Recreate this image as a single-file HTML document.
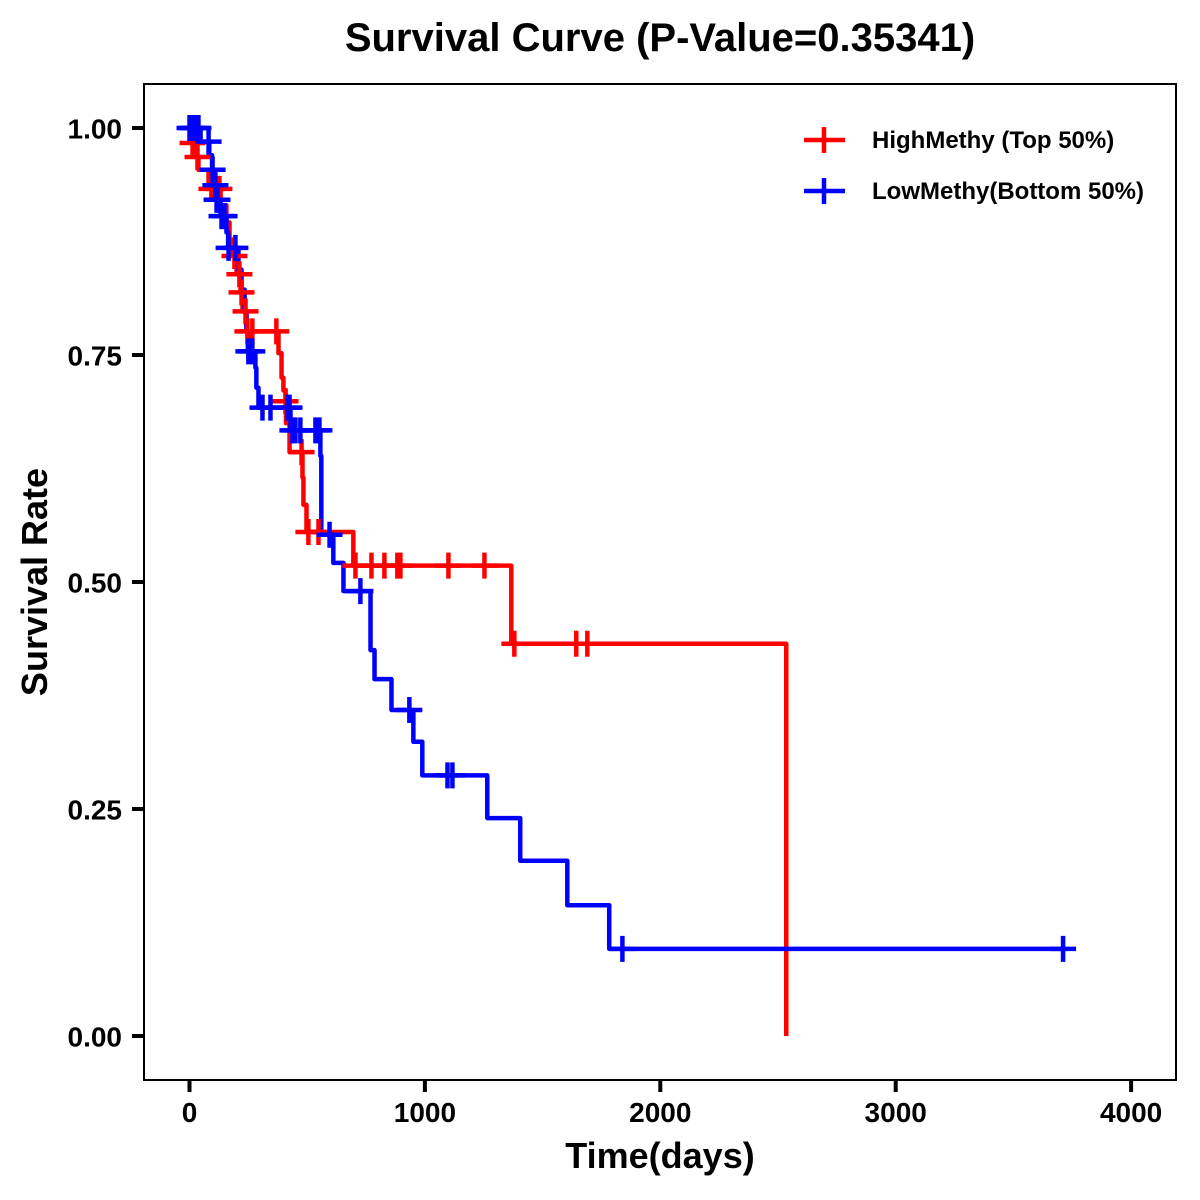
<!DOCTYPE html>
<html lang="en">
<head>
<meta charset="utf-8">
<title>Survival Curve</title>
<style>
html,body{margin:0;padding:0;background:#fff;}
svg{display:block;}
text{font-family:"Liberation Sans",Arial,sans-serif;font-weight:bold;fill:#000;}
</style>
</head>
<body>
<svg id="chart" xmlns="http://www.w3.org/2000/svg" width="1200" height="1200" viewBox="0 0 1200 1200">
  <rect x="0" y="0" width="1200" height="1200" fill="#fff"/>
  <text x="660" y="51" font-size="40" text-anchor="middle">Survival Curve (P-Value=0.35341)</text>
  <rect x="144" y="84" width="1032" height="996" fill="none" stroke="#000" stroke-width="2"/>
  <g id="x-axis"></g>
  <g id="y-axis"></g>
  <g id="series"></g>
  <text x="660" y="1168" font-size="36" text-anchor="middle">Time(days)</text>
  <text transform="translate(47,582) rotate(-90)" font-size="36" text-anchor="middle">Survival Rate</text>
  <g>
    <g>
      <line x1="804" x2="845" y1="140" y2="140" stroke="#f00" stroke-width="4.5"/>
      <line x1="824" x2="824" y1="127" y2="153" stroke="#f00" stroke-width="4.5"/>
      <text x="872" y="148" font-size="24">HighMethy (Top 50%)</text>
    </g>
    <g>
      <line x1="804" x2="845" y1="191" y2="191" stroke="#00f" stroke-width="4.5"/>
      <line x1="824" x2="824" y1="178" y2="204" stroke="#00f" stroke-width="4.5"/>
      <text x="872" y="199" font-size="24">LowMethy(Bottom 50%)</text>
    </g>
  </g>
</svg>
<script>
const xTicks = [0, 1000, 2000, 3000, 4000];
const yTicks = [0, 0.25, 0.5, 0.75, 1];

const highTimes = [0, 8, 25, 38, 81, 89, 132, 157, 170, 183, 200, 217, 225, 242, 378, 391, 399, 408, 410, 425, 480, 484, 497, 696, 1367, 2535];
const highSurvival = [1, 0.9835, 0.968, 0.954, 0.939, 0.933, 0.915, 0.896, 0.877, 0.859, 0.839, 0.819, 0.798, 0.776, 0.752, 0.725, 0.711, 0.699, 0.675, 0.643, 0.615, 0.585, 0.555, 0.518, 0.432, 0];
const highCensored = [13, 34, 93, 127, 191, 212, 221, 238, 246, 267, 369, 408, 476, 505, 548, 705, 773, 828, 883, 896, 1100, 1253, 1380, 1643, 1690];

const lowTimes = [0, 47, 84, 96, 106, 113, 132, 157, 164, 208, 221, 234, 242, 248, 280, 284, 293, 429, 556, 560, 611, 654, 769, 786, 858, 951, 989, 1265, 1405, 1605, 1783];
const lowSurvival = [1, 0.985, 0.97, 0.954, 0.937, 0.921, 0.903, 0.885, 0.868, 0.844, 0.822, 0.797, 0.776, 0.754, 0.736, 0.714, 0.692, 0.667, 0.639, 0.552, 0.521, 0.49, 0.425, 0.393, 0.359, 0.324, 0.287, 0.24, 0.193, 0.144, 0.096];
const lowCensored = [0, 8, 17, 30, 38, 81, 98, 110, 115, 119, 136, 149, 166, 195, 250, 267, 310, 344, 416, 425, 437, 450, 471, 535, 552, 595, 726, 934, 1096, 1117, 1839, 3711];

const NS = 'http://www.w3.org/2000/svg';
const xScale = t => 189.5 + 0.2354 * t;
const yScale = s => 1036 - 908 * s;

function make(tag, attrs, parent) {
  const el = document.createElementNS(NS, tag);
  for (const k in attrs) el.setAttribute(k, attrs[k]);
  parent.appendChild(el);
  return el;
}

const xAxis = document.getElementById('x-axis');
xTicks.forEach(v => {
  const tick = make('line', {x1: xScale(v), x2: xScale(v), y1: 1080, y2: 1092, stroke: '#000', 'stroke-width': 4}, xAxis);
  
  
  const label = make('text', {x: xScale(v), y: 1122, 'font-size': 28, 'text-anchor': 'middle'}, xAxis);
  
  
  label.textContent = String(v);
});

const yAxis = document.getElementById('y-axis');
yTicks.forEach(v => {
  const tick = make('line', {x1: 132, x2: 144, y1: yScale(v), y2: yScale(v), stroke: '#000', 'stroke-width': 4}, yAxis);
  
  
  const label = make('text', {x: 122, y: yScale(v) + 10.5, 'font-size': 28, 'text-anchor': 'end'}, yAxis);
  
  
  label.textContent = v.toFixed(2);
});

function survivalAt(times, surv, t) {
  let s = surv[0];
  for (let i = 0; i < times.length; i++) {
    if (times[i] <= t) s = surv[i];
  }
  return s;
}

function buildPath(times, surv, endTime) {
  let d = 'M' + xScale(times[0]) + ' ' + yScale(surv[0]);
  for (let i = 1; i < times.length; i++) {
    d += 'H' + xScale(times[i]) + 'V' + yScale(surv[i]);
  }
  if (endTime > times[times.length - 1]) d += 'H' + xScale(endTime);
  return d;
}

const layer = document.getElementById('series');

const lineGroup = make('g', {}, layer);


const highLine = make('path', {d: buildPath(highTimes, highSurvival, 0), fill: 'none', stroke: '#f00', 'stroke-width': 4.5, 'stroke-linejoin': 'round'}, lineGroup);


const lowLine = make('path', {d: buildPath(lowTimes, lowSurvival, lowCensored[lowCensored.length - 1]), fill: 'none', stroke: '#00f', 'stroke-width': 4.5, 'stroke-linejoin': 'round'}, lineGroup);



const highMarks = make('g', {}, layer);


highCensored.forEach(t => {
  const cx = xScale(t), cy = yScale(survivalAt(highTimes, highSurvival, t));
  const m = make('path', {d: 'M' + (cx - 13) + ' ' + cy + 'H' + (cx + 13) + 'M' + cx + ' ' + (cy - 13) + 'V' + (cy + 13), fill: 'none', stroke: '#f00', 'stroke-width': 4.5}, highMarks);
  
  
});

const lowMarks = make('g', {}, layer);


lowCensored.forEach(t => {
  const cx = xScale(t), cy = yScale(survivalAt(lowTimes, lowSurvival, t));
  const m = make('path', {d: 'M' + (cx - 13) + ' ' + cy + 'H' + (cx + 13) + 'M' + cx + ' ' + (cy - 13) + 'V' + (cy + 13), fill: 'none', stroke: '#00f', 'stroke-width': 4.5}, lowMarks);
  
  
});
</script>
</body>
</html>
